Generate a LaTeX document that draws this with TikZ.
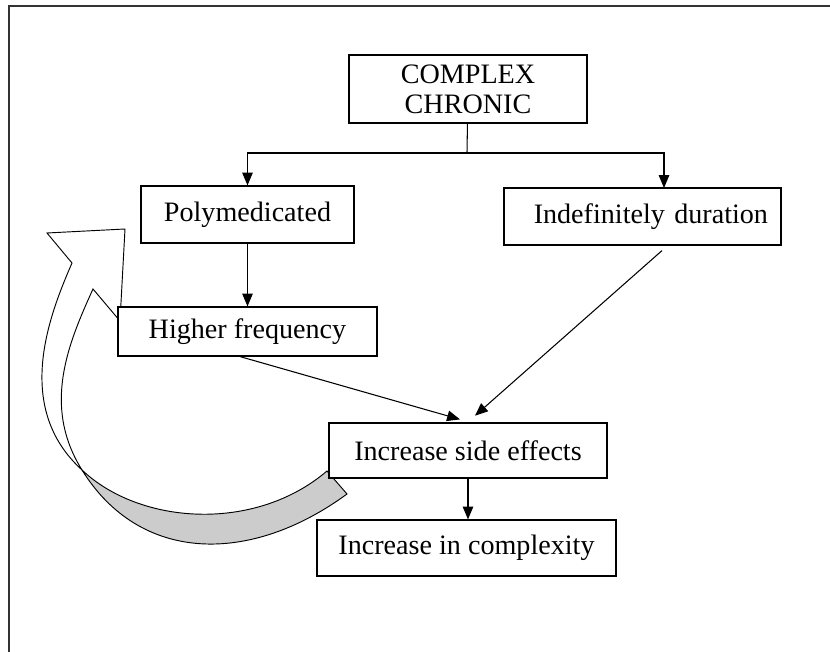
\documentclass[tikz,border=0pt]{standalone}
\usepackage{fontspec}
\setmainfont{Liberation Serif}
\usetikzlibrary{arrows.meta}

\begin{document}
\begin{tikzpicture}[x=0.03cm,y=-0.03cm,
  box/.style={draw,line width=1pt,fill=white,inner sep=0pt,font=\fontsize{24}{25.5}\selectfont},
  arr/.style={line width=0.9pt,-{Triangle[length=11pt,width=9pt]}}]
\useasboundingbox (0,0) rectangle (830,652);
\draw[line width=1.4pt,black!80] (9,652) -- (9,6) -- (830,6);
% curved arrow: back side first, then front with head
\coordinate (cross) at (82,470);
\filldraw[fill=black!20,line width=0.8pt] (cross) .. controls (140,525) and (255,532.5) .. (327,471) -- (347,494) .. controls (250,565) and (140,563.5) .. (cross) -- cycle;
\filldraw[fill=white,line width=0.8pt] (cross) .. controls (14,408) and (48,318) .. (72,263) -- (47,233) -- (125,229) -- (120,321) -- (93,289) .. controls (68,344) and (42,406) .. (cross) -- cycle;
% boxes
\node[box,minimum width=7.14cm,minimum height=2.04cm,align=center] (chronic) at (468,89) {COMPLEX\\CHRONIC};
\node[box,minimum width=6.39cm,minimum height=1.71cm] (poly) at (247.5,214.5) {Polymedicated};
\node[box,minimum height=1.71cm,text width=7.53cm,align=right,inner xsep=0.39cm] (indef) at (642.5,216.5) {Indefinitely duration};
\node[box,minimum width=7.77cm,minimum height=1.47cm] (higher) at (247.5,331.5) {Higher frequency};
\node[box,minimum width=8.34cm,minimum height=1.65cm] (side) at (468,450.5) {Increase side effects};
\node[box,minimum width=8.97cm,minimum height=1.68cm] (cplx) at (466.5,548) {Increase in complexity};
% connectors
\coordinate (split) at (467,153); \coordinate (indin) at (664,188);
\draw[line width=0.9pt] (chronic) -- (split);
\draw[arr] (split) -| (poly); \draw[arr] (split) -| (indin);
\draw[arr] (poly) -- (higher);
\draw[arr] ([xshift=-0.225cm]higher.south) -- ([xshift=-0.24cm,yshift=0.09cm]side.north);
\draw[arr] ([xshift=0.585cm,yshift=-0.15cm]indef.south) -- ([xshift=0.21cm,yshift=0.2cm]side.north);
\draw[arr] (side) -- (side |- cplx.north);
\end{tikzpicture}
\end{document}
